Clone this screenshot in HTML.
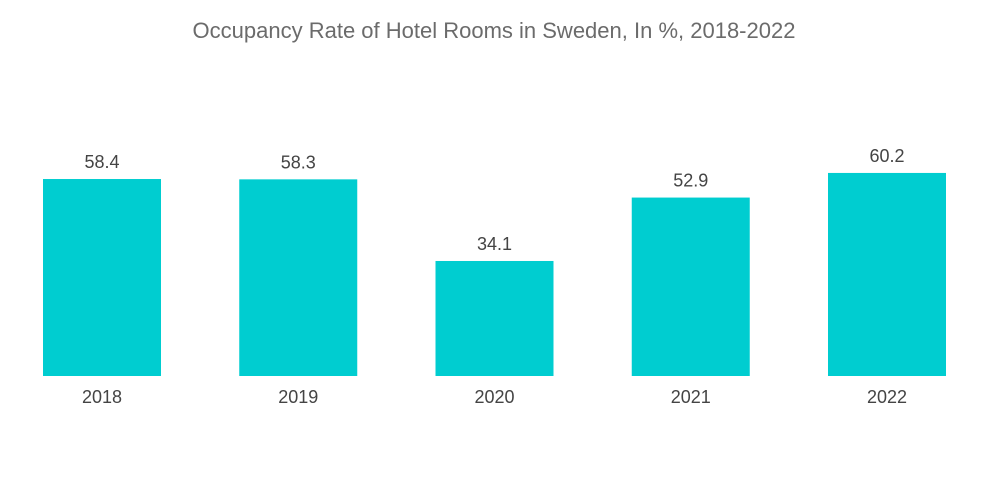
<!DOCTYPE html>
<html><head><meta charset="utf-8">
<style>
html,body{margin:0;padding:0;background:#fff;}
svg{display:block;font-family:"Liberation Sans",sans-serif;}
</style></head>
<body>
<svg id="chart" width="1000" height="504">
<text x="494" y="38" text-anchor="middle" font-size="22" fill="#6b6b6b">Occupancy Rate of Hotel Rooms in Sweden, In %, 2018-2022</text>
<g id="bars"></g>
</svg>
<script>
const categories = ["2018","2019","2020","2021","2022"];
const values = [58.4, 58.3, 34.1, 52.9, 60.2];
const valueLabels = ["58.4","58.3","34.1","52.9","60.2"];

const baseline = 376, pxPerUnit = 3.373;
const firstX = 43, step = 196.25, barW = 118;
function xPos(i){ return firstX + i*step; }
function yPos(v){ return baseline - v*pxPerUnit; }
const g = document.getElementById('bars');
const NS = "http://www.w3.org/2000/svg";
categories.forEach((c,i)=>{
  const x = xPos(i), y = yPos(values[i]);
  const r = document.createElementNS(NS,'rect');
  r.setAttribute('x',x); r.setAttribute('y',y);
  r.setAttribute('width',barW); r.setAttribute('height',baseline-y);
  r.setAttribute('fill','#00cdd0');
  
  
  g.appendChild(r);
  const t = document.createElementNS(NS,'text');
  t.setAttribute('x',x+barW/2); t.setAttribute('y',y-11);
  t.setAttribute('text-anchor','middle'); t.setAttribute('font-size','18'); t.setAttribute('fill','#444');
  t.textContent = valueLabels[i];
  
  
  g.appendChild(t);
  const l = document.createElementNS(NS,'text');
  l.setAttribute('x',x+barW/2); l.setAttribute('y',403);
  l.setAttribute('text-anchor','middle'); l.setAttribute('font-size','18'); l.setAttribute('fill','#444');
  l.textContent = c;
  
  
  g.appendChild(l);
});
</script>
</body></html>
